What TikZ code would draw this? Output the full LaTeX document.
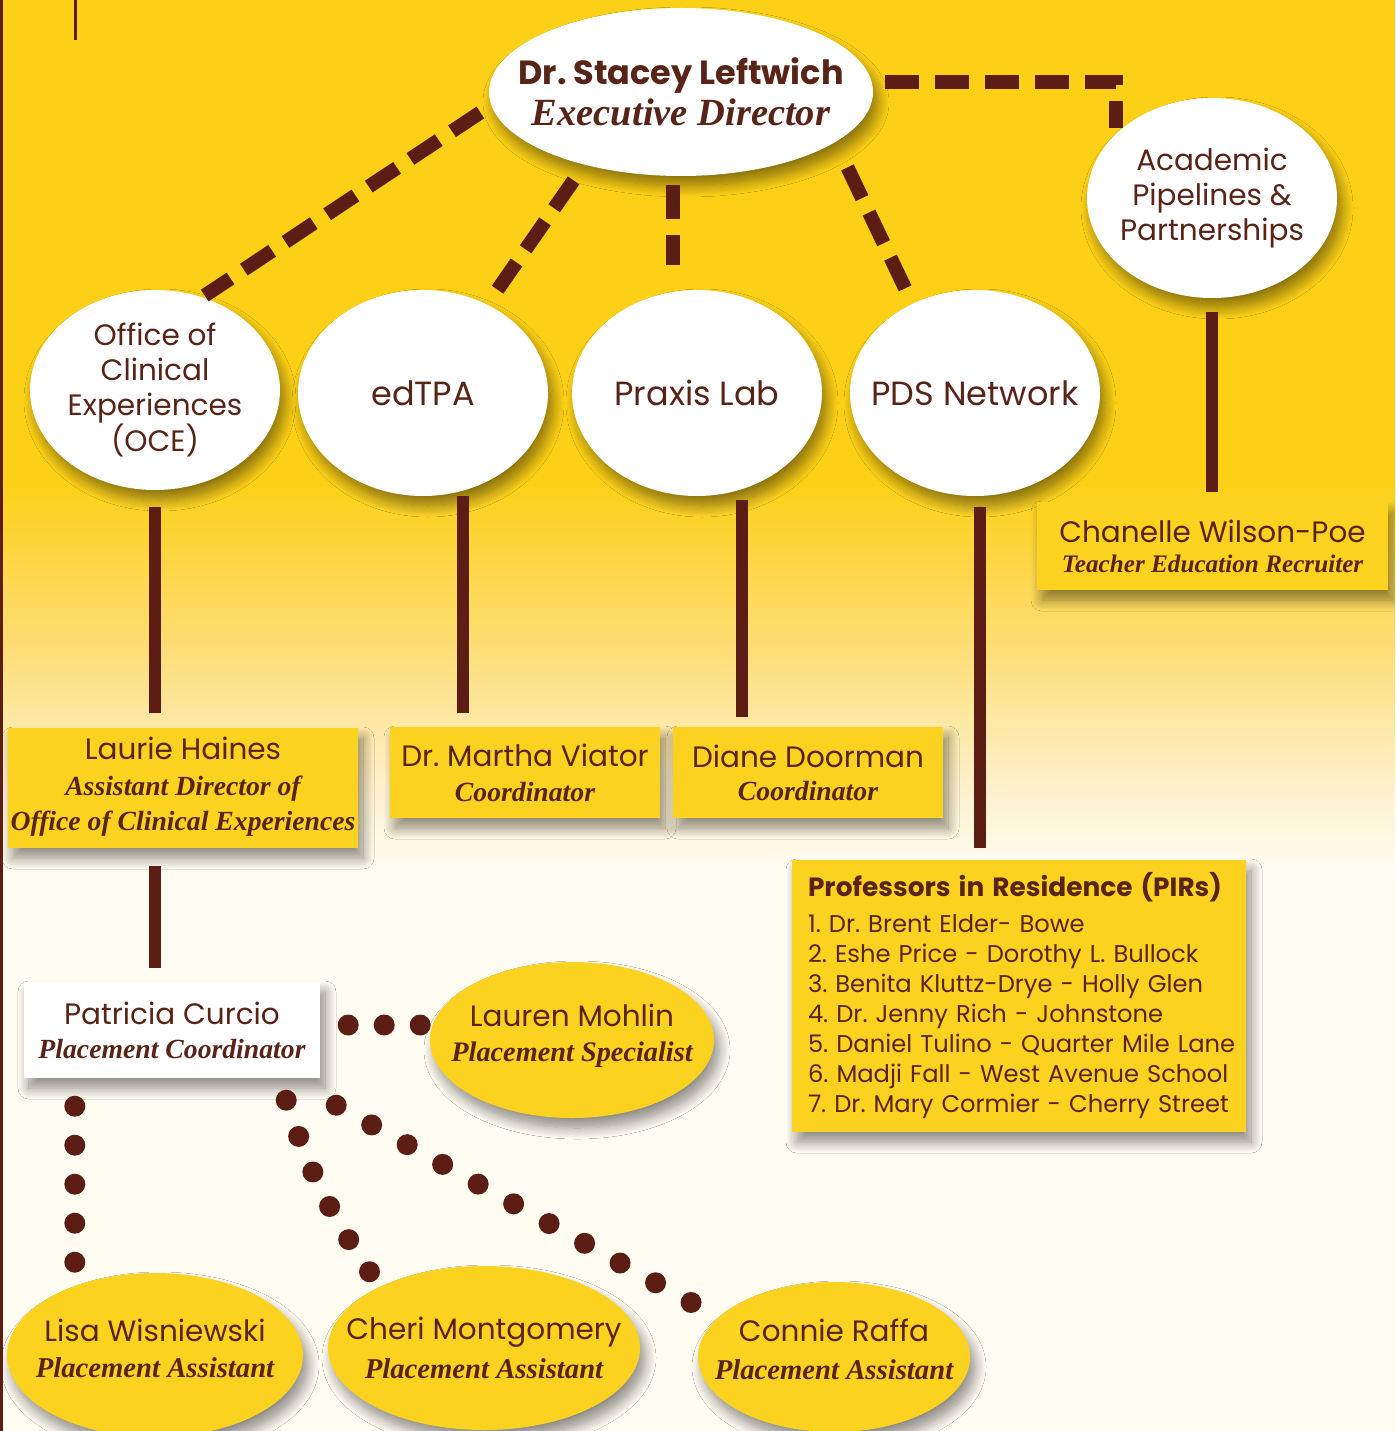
\documentclass[tikz,border=0pt]{standalone}
\usepackage{fontspec}
\setmainfont{Poppins}
\newfontfamily\scr{Liberation Serif}
\usetikzlibrary{shapes.geometric,shadows.blur,calc}
\definecolor{ylw}{RGB}{252,208,22}
\definecolor{boxy}{RGB}{252,210,32}
\definecolor{txt}{RGB}{88,36,24}
\definecolor{lc}{RGB}{92,30,20}
\definecolor{bgA}{RGB}{253,222,120}
\definecolor{bgB}{RGB}{254,240,200}
\definecolor{bgC}{RGB}{255,252,242}
\newcommand{\snA}{\fontsize{29.5}{35}\selectfont}
\newcommand{\snB}{\fontsize{33.5}{40}\selectfont}
\newcommand{\snC}{\fontsize{24.2}{30}\selectfont}
\newcommand{\scA}[2][27.7]{{\scr\bfseries\itshape\fontsize{#1}{35}\selectfont #2}}
\tikzset{
  x=1pt,y=-1pt,
  conn/.style={draw=lc,line width=12pt},
  dashconn/.style={draw=lc,line width=14pt,dash pattern=on 34pt off 16pt},
  dotconn/.style={draw=lc,line width=21pt,line cap=round},
  shad/.style={blur shadow={shadow xshift=5pt,shadow yshift=-10pt,shadow blur radius=11pt,shadow opacity=45,shadow blur steps=14}},
  wellipse/.style={ellipse,fill=white,inner sep=-40pt,align=center,text=txt,font=\snA,shad},
  yellipse/.style={ellipse,fill=boxy,inner sep=-40pt,align=center,text=txt,font=\snA,shad},
  ybox/.style={rectangle,fill=boxy,inner sep=0pt,align=center,text=txt,font=\snA,shad},
  wbox/.style={rectangle,fill=white,inner sep=0pt,align=center,text=txt,font=\snA,shad},
}
\begin{document}
\frenchspacing
\begin{tikzpicture}
\clip (0,0) rectangle (1395,1431);
% background
\fill[ylw] (0,0) rectangle (1395,481);
\shade[top color=ylw,bottom color=bgA] (0,480) rectangle (1395,651);
\shade[top color=bgA,bottom color=bgB] (0,650) rectangle (1395,781);
\shade[top color=bgB,bottom color=bgC] (0,780) rectangle (1395,871);
\fill[bgC] (0,870) rectangle (1395,1431);
\fill[lc] (0,0) rectangle (2.5,1431);
\fill[lc] (73.5,0) rectangle (77,40);

% top
\node[wellipse,minimum width=384pt,minimum height=168pt] (exec) at (681,92)
  {{\bfseries\fontsize{33.5}{35}\selectfont Dr. Stacey Leftwich}\\[5pt]\scA[38.5]{Executive Director}};

\node[wellipse,minimum width=250pt,minimum height=200pt] (oce) at (155,390)
  {Office of\\Clinical\\Experiences\\(OCE)};
\node[wellipse,minimum width=250pt,minimum height=206pt,font=\snB] (edtpa) at (423,393) {edTPA};
\node[wellipse,minimum width=250pt,minimum height=206pt,font=\snB] (praxis) at (697,393) {Praxis Lab};
\node[wellipse,minimum width=250pt,minimum height=206pt,font=\snB] (pds) at (975,393) {PDS Network};
\node[wellipse,minimum width=250pt,minimum height=200pt] (acad) at (1212,198)
  {Academic\\Pipelines \&\\Partnerships};

% boxes
\node[ybox,minimum width=350pt,minimum height=120pt] (laurie) at (183,788)
  {Laurie Haines\\[1pt]\scA{Assistant Director of}\\[0pt]\scA{Office of Clinical Experiences}\\[-26pt]\mbox{}};
\node[ybox,minimum width=270pt,minimum height=91pt] (martha) at (525,772.5)
  {Dr. Martha Viator\\[0pt]\scA{Coordinator}};
\node[ybox,minimum width=270pt,minimum height=91pt] (diane) at (808,772.5)
  {Diane Doorman\\[-2pt]\scA{Coordinator}};
\node[ybox,minimum width=351pt,minimum height=88pt] (chan) at (1212.5,546)
  {Chanelle Wilson-Poe\\[-5pt]\scA[25.2]{Teacher Education Recruiter}};
\node[ybox,minimum width=454pt,minimum height=272pt,align=left,text width=422pt,inner xsep=16pt,font=\snC] (pir) at (1019,996)
  {\mbox{\bfseries\fontsize{26.4}{30}\selectfont Professors in Residence (PIRs)}\\[6pt]
   \mbox{1. Dr. Brent Elder- Bowe}\\
   \mbox{2. Eshe Price - Dorothy L. Bullock}\\
   \mbox{3. Benita Kluttz-Drye - Holly Glen}\\
   \mbox{4. Dr. Jenny Rich - Johnstone}\\
   \mbox{5. Daniel Tulino - Quarter Mile Lane}\\
   \mbox{6. Madji Fall - West Avenue School}\\
   \mbox{7. Dr. Mary Cormier - Cherry Street}};
\node[wbox,minimum width=296pt,minimum height=96pt] (pc) at (172,1030)
  {Patricia Curcio\\[-1pt]\scA{Placement Coordinator}};

% bottom ellipses
\node[yellipse,minimum width=284pt,minimum height=156pt] (lauren) at (572,1040)
  {Lauren Mohlin\\[0pt]\scA[28.3]{Placement Specialist}\\[-20pt]\mbox{}};
\node[yellipse,minimum width=296pt,minimum height=164pt] (lisa) at (155,1355)
  {Lisa Wisniewski\\[1pt]\scA[28.7]{Placement Assistant}\\[-22pt]\mbox{}};
\node[yellipse,minimum width=312pt,minimum height=164pt] (cheri) at (484,1348)
  {Cheri Montgomery\\[4pt]\scA[28.7]{Placement Assistant}};
\node[yellipse,minimum width=272pt,minimum height=150pt] (connie) at (834,1357)
  {Connie Raffa\\[3pt]\scA[28.7]{Placement Assistant}\\[-20pt]\mbox{}};

% dashed connectors
\draw[dashconn,shorten <=13pt,shorten >=3pt] (exec.184) -- (oce.63);
\draw[dashconn,shorten <=19pt,shorten >=18pt] (exec.217) -- (edtpa.54);
\draw[dashconn] ([shift={(-8pt,-9pt)}]exec.south) -- ([shift={(-24pt,25pt)}]praxis.north);
\draw[dashconn,shorten <=28pt,shorten >=15pt] (exec.-18.6) -- (pds.125);
\draw[dashconn] ([shift={(12pt,10pt)}]exec.east) -| ([yshift=5pt]acad.146);

% solid connectors
\draw[conn,shorten <=17pt,shorten >=15pt] (oce.south) -- (oce.south |- laurie.north);
\draw[conn,shorten >=14pt] ([xshift=40pt]edtpa.south) -- ([xshift=40pt]edtpa.south |- martha.north);
\draw[conn,shorten <=4pt,shorten >=10pt] ([xshift=45pt]praxis.south) -- ([xshift=45pt]praxis.south |- diane.north);
\draw[conn,shorten <=11pt,shorten >=12pt] ([xshift=5pt]pds.south) -- ([xshift=5pt]pds.south |- pir.north);
\draw[conn,shorten <=14pt,shorten >=10pt] (acad.south) -- (acad.south |- chan.north);
\draw[conn,shorten <=18pt,shorten >=14pt] (laurie.south -| oce.south) -- (pc.north -| oce.south);

% dotted connectors
\draw[dotconn,dash pattern=on 0pt off 36pt,shorten <=28pt,shorten >=8pt] ([yshift=5pt]pc.east) -- ([yshift=15pt]lauren.west);
\draw[dotconn,dash pattern=on 0pt off 39pt,shorten <=28pt,shorten >=9pt] ([xshift=51pt]pc.south west) -- ([xshift=51pt]pc.south west |- lisa.north);
\draw[dotconn,dash pattern=on 0pt off 38.3pt] ([shift={(-34pt,-22pt)}]pc.south east) to[bend right=8] ([shift={(-113pt,74pt)}]cheri.center);
\draw[dotconn,dash pattern=on 0pt off 40.6pt] ([shift={(16pt,-27pt)}]pc.south east) -- ([shift={(-142pt,54pt)}]connie.center);
\end{tikzpicture}
\end{document}
